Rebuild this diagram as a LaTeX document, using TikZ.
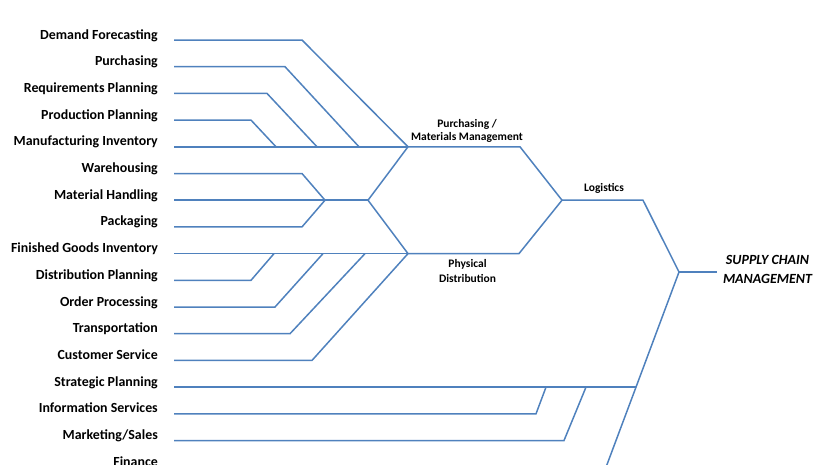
\documentclass[tikz,border=0pt]{standalone}
\usepackage{fontspec}
\setmainfont{Carlito}
\definecolor{linkblue}{RGB}{79,129,189}
\begin{document}
\begin{tikzpicture}[x=1pt,y=-1pt,
  link/.style={draw=linkblue,line width=1.5pt,line join=miter},
  item/.style={anchor=base east,inner sep=0pt,font=\bfseries\fontsize{13.9}{15}\selectfont},
  mid/.style={inner sep=0pt,align=center,font=\bfseries\fontsize{11.5}{13}\selectfont},
  mid2/.style={inner sep=0pt,align=center,font=\bfseries\fontsize{11.5}{15}\selectfont},
  head/.style={inner sep=0pt,align=center,font=\bfseries\itshape\fontsize{14}{19}\selectfont}]
\useasboundingbox (0,0) rectangle (818,464);

% row heights of the function list
\foreach \i in {0,...,16} {\pgfmathsetmacro\yy{40+26.7*\i}\expandafter\xdef\csname row\i\endcsname{\yy}}

% function labels
\foreach \i/\t in {0/Demand Forecasting,1/Purchasing,2/Requirements Planning,3/Production Planning,
  4/Manufacturing Inventory,5/Warehousing,6/Material Handling,7/Packaging,8/Finished Goods Inventory,
  9/Distribution Planning,10/Order Processing,11/Transportation,12/Customer Service,
  13/Strategic Planning,14/Information Services,15/{Marketing/Sales},16/Finance}
  {\node[item] (l\i) at (158,{\csname row\i\endcsname-1}) {\t};
   \coordinate (s\i) at (174,{\csname row\i\endcsname});}

% junctions
\coordinate (pm) at (408,\csname row4\endcsname);
\coordinate (mh) at (325,\csname row6\endcsname);
\coordinate (mf) at (368,\csname row6\endcsname);
\coordinate (pd) at (408,\csname row8\endcsname);
\coordinate (lg) at (562,\csname row6\endcsname);
\coordinate (scm) at (679,272);
\coordinate (sp) at (636,\csname row13\endcsname);
\coordinate (fin) at (606,\csname row16\endcsname);

% materials management branch
\draw[link] (s0) -- (302,\csname row0\endcsname) -- (pm);
\draw[link] (s1) -- (285,\csname row1\endcsname) -- (359,\csname row4\endcsname);
\draw[link] (s2) -- (267,\csname row2\endcsname) -- (317,\csname row4\endcsname);
\draw[link] (s3) -- (251,\csname row3\endcsname) -- (276,\csname row4\endcsname);
\draw[link] (s4) -- (pm);

% warehousing group
\draw[link] (s5) -- (302,\csname row5\endcsname) -- (mh);
\draw[link] (s7) -- (302,\csname row7\endcsname) -- (mh);
\draw[link] (s6) -- (mf);
\draw[link] (pm) -- (mf) -- (pd);

% physical distribution branch
\draw[link] (s8) -- (pd);
\draw[link] (s9) -- (251,\csname row9\endcsname) -- (274,\csname row8\endcsname);
\draw[link] (s10) -- (275,\csname row10\endcsname) -- (323,\csname row8\endcsname);
\draw[link] (s11) -- (290,\csname row11\endcsname) -- (365,\csname row8\endcsname);
\draw[link] (s12) -- (312,\csname row12\endcsname) -- (pd);

% logistics
\draw[link] (pm) -- (520,\csname row4\endcsname) -- (lg);
\draw[link] (pd) -- (519,\csname row8\endcsname) -- (lg);
\draw[link] (lg) -- (643,\csname row6\endcsname) -- (scm);
\draw[link] (scm) -- (717,272);

% other functions feeding the trunk
\draw[link] (scm) -- (sp) -- (fin);
\draw[link] (s13) -- (sp);
\draw[link] (s14) -- (536,\csname row14\endcsname) -- (546,\csname row13\endcsname);
\draw[link] (s15) -- (564,\csname row15\endcsname) -- (586,\csname row13\endcsname);
\draw[link] (s16) -- (fin);

% branch labels
\node[mid] (pmlab) at (467,130.5) {Purchasing /\\Materials\ Management};
\node[mid] (lglab) at (604,188) {Logistics};
\node[mid2] (pdlab) at (467.5,270.5) {Physical\\Distribution};
\node[head] (scmlab) at (767.5,269.5) {SUPPLY CHAIN\\MANAGEMENT};
\end{tikzpicture}
\end{document}
